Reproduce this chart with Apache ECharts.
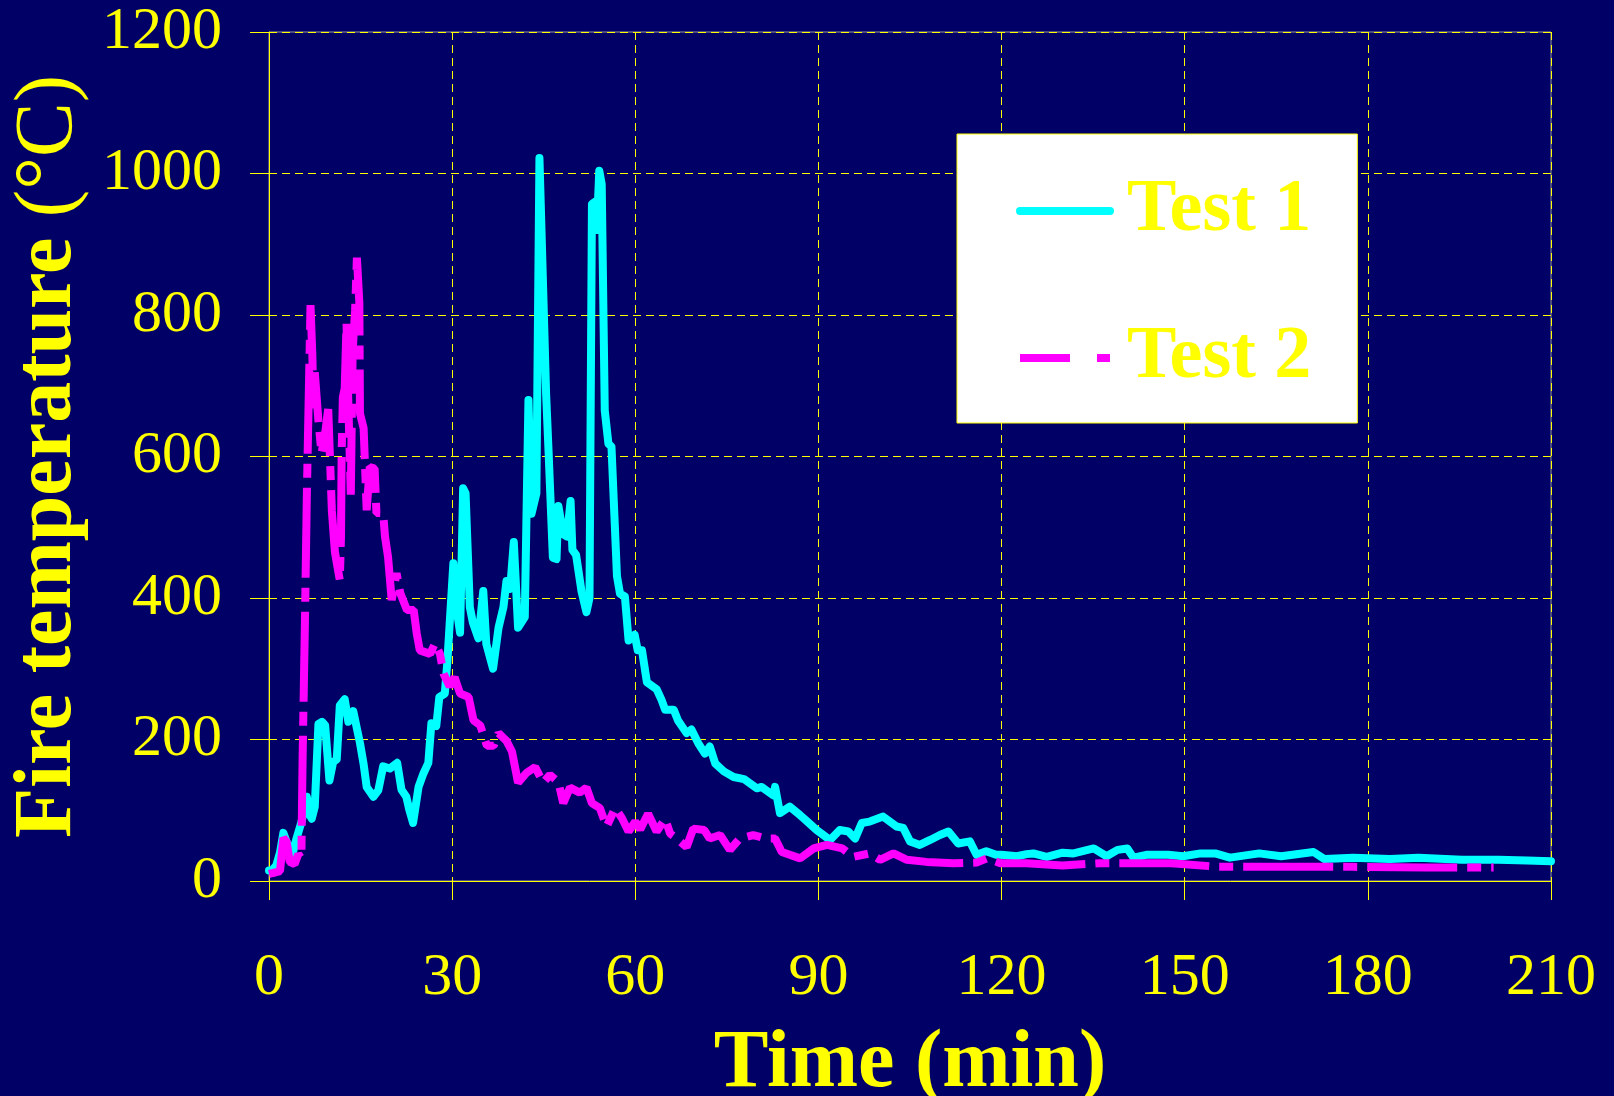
<!DOCTYPE html>
<html>
<head>
<meta charset="utf-8">
<title>Fire temperature</title>
<script src="https://cdn.jsdelivr.net/npm/echarts@6/dist/echarts.min.js"></script>
<style>
  html, body { margin: 0; padding: 0; background: #000066; }
  #main { width: 1614px; height: 1096px; }
</style>
</head>
<body>
<div id="main"></div>
<script>
// values (time in min, temperature in °C)
var test1Time = [0, 0.5, 1.2, 1.8, 2.35, 2.9, 3.4, 3.9, 4.5, 5.2, 5.8, 6.2, 6.6, 7.0, 7.5, 8.1, 8.7, 9.2, 9.9, 10.5,
  11.1, 11.6, 12.4, 13.0, 13.8, 14.9, 15.5, 16.0, 17.1, 17.9, 18.7, 19.8, 21.0, 21.7, 22.5, 23.0, 23.6, 24.5, 25.3, 26.1,
  26.6, 27.4, 27.9, 28.8, 29.2, 30.2, 30.8, 31.3, 31.8, 32.2, 32.9, 33.4, 34.3, 35.1, 35.6, 36.7, 37.6, 38.4, 38.9, 39.5,
  40.1, 40.8, 41.9, 42.5, 43.0, 43.8, 44.3, 44.6, 45.4, 45.8, 46.5, 47.1, 47.4, 48.2, 48.8, 49.4, 49.7, 50.3, 51.2, 52.0,
  52.5, 52.9, 53.4, 53.7, 54.1, 54.5, 55.0, 55.6, 56.1, 57.0, 57.5, 58.3, 58.9, 59.9, 60.4, 61.1, 61.9, 63.5, 64.3, 64.9,
  66.3, 67.0, 68.4, 69.2, 70.3, 71.4, 72.2, 73.1, 74.5, 76.1, 77.8, 79.9, 80.7, 82.6, 82.9, 83.7, 85.3, 87.0, 87.8, 89.7,
  91.9, 93.5, 94.9, 96.0, 97.1, 98.4, 100.6, 102.8, 103.9, 105.0, 106.6, 108.3, 109.9, 111.3, 112.9, 114.8, 115.9, 117.5, 119.1, 120.0,
  122.5, 124.1, 125.2, 127.4, 130.0, 131.8, 135.1, 137.2, 139.0, 140.6, 141.6, 143.7, 147.3, 149.7, 152.6, 155.0, 157.4, 162.2, 165.8, 171.1,
  172.9, 177.6, 183.6, 188.3, 195.4, 201.4, 206.1, 210];
var test1Temp = [15, 15, 22, 40, 68, 55, 45, 40, 60, 80, 100, 119, 95, 88, 105, 222, 225, 220, 142, 168,
  172, 248, 257, 225, 240, 195, 165, 133, 119, 128, 162, 159, 167, 129, 119, 100, 82, 133, 152, 167,
  223, 219, 260, 265, 308, 449, 380, 351, 555, 548, 387, 365, 343, 410, 335, 300, 358, 387, 424, 413,
  479, 358, 373, 680, 519, 548, 1022, 1022, 687, 606, 457, 455, 530, 490, 487, 537, 468, 461, 409, 380,
  400, 957, 960, 920, 1004, 985, 665, 618, 614, 431, 406, 402, 340, 348, 326, 326, 281, 271, 256, 242,
  242, 227, 209, 214, 195, 180, 190, 166, 155, 147, 144, 131, 133, 121, 133, 96, 105, 93, 87, 72,
  58, 72, 70, 60, 82, 84, 91, 77, 75, 56, 51, 58, 65, 70, 53, 56, 37, 42, 37, 37,
  35, 38, 39, 34, 40, 39, 46, 35, 44, 46, 33, 37, 37, 35, 39, 39, 33, 39, 35, 41,
  31, 33, 31, 33, 30, 30, 29, 28];

var test2Time = [0, 1.0, 1.8, 2.35, 2.9, 3.4, 4.2, 4.8, 5.3, 5.5, 5.9, 6.2, 6.6, 6.8, 7.1, 7.3, 7.5, 8.1, 8.6, 9.2,
  9.7, 10.3, 10.8, 11.3, 11.6, 11.8, 11.9, 12.1, 12.4, 12.7, 13.0, 13.4, 13.7, 14.1, 14.4, 14.8, 14.9, 15.5, 16.0, 16.5,
  17.3, 17.6, 18.7, 19.0, 19.5, 20.1, 20.9, 21.5, 22.6, 23.7, 24.2, 24.7, 26.4, 27.2, 28.0, 28.6, 29.6, 30.4, 31.3, 32.7,
  33.5, 34.6, 35.7, 36.8, 37.6, 38.9, 39.8, 40.8, 42.2, 43.6, 44.9, 46.0, 47.4, 48.2, 49.3, 50.9, 52.0, 52.9, 54.2, 55.3,
  56.7, 57.8, 58.9, 60.0, 60.8, 62.1, 63.5, 64.9, 65.7, 66.8, 68.4, 69.5, 71.3, 72.2, 73.9, 75.5, 77.1, 79.3, 81.5, 82.9,
  84.0, 87.0, 89.2, 91.4, 93.9, 95.7, 98.4, 100.1, 102.3, 104.5, 107.7, 112.1, 115.9, 117.6, 119.8, 124.1, 130.0, 136.0, 141.9, 147.8,
  155.6, 165.7, 177.6, 189.5, 200.6];
var test2Temp = [10, 12, 14, 61, 55, 27, 24, 38, 32, 171, 373, 546, 725, 814, 743, 668, 719, 650, 604, 633,
  667, 523, 465, 440, 425, 489, 604, 684, 696, 788, 673, 546, 748, 806, 881, 817, 661, 640, 524, 585,
  583, 520, 520, 487, 458, 397, 435, 407, 383, 383, 350, 326, 321, 336, 321, 293, 275, 288, 265, 260,
  227, 220, 191, 191, 209, 198, 183, 139, 153, 161, 139, 150, 140, 110, 132, 125, 132, 110, 103, 77,
  103, 89, 70, 84, 73, 95, 70, 88, 67, 60, 48, 74, 72, 60, 65, 44, 60, 65, 60, 60,
  41, 32, 46, 51, 46, 34, 39, 30, 39, 30, 27, 25, 26, 32, 25, 25, 22, 25, 25, 25,
  20, 20, 20, 19, 19];

var xTicks = [0, 210, 30];    // min, max, step
var yTicks = [0, 1200, 200];

function pairs(xs, ys) {
  return xs.map(function (x, i) { return [x, ys[i]]; });
}

var serif = '"Liberation Serif", "Times New Roman", serif';
var yellow = '#ffff00';
var noSymbol = { color: 'transparent', borderColor: 'transparent', borderWidth: 0, opacity: 0 };

var chart = echarts.init(document.getElementById('main'));
chart.setOption({
  backgroundColor: '#000066',
  animation: false,
  grid: {
    left: 269, right: 63, top: 32, bottom: 215,
    outerBoundsMode: 'none',
    containLabel: false,
    show: true, borderColor: '#999999', borderWidth: 1
  },
  legend: {
    orient: 'vertical',
    left: 957, top: 134,
    padding: [40, 46, 28, 59],
    itemWidth: 90, itemHeight: 14, itemGap: 73,
    backgroundColor: '#ffffff',
    borderColor: yellow, borderWidth: 1,
    textStyle: { color: yellow, fontSize: 74, lineHeight: 70, fontWeight: 'bold', fontFamily: serif, padding: [0, 0, 0, 12] },
    data: [
      { name: 'Test 1', itemStyle: noSymbol, lineStyle: { width: 8, cap: 'round' } },
      { name: 'Test 2', itemStyle: noSymbol, lineStyle: { width: 8, type: [50, 27, 13, 27], cap: 'butt' } }
    ]
  },
  xAxis: {
    type: 'value',
    min: xTicks[0], max: xTicks[1], interval: xTicks[2],
    name: 'Time (min)',
    nameLocation: 'middle',
    nameGap: 143,
    nameTextStyle: { color: yellow, fontSize: 82, fontWeight: 'bold', fontFamily: serif },
    axisLine: { show: true, lineStyle: { color: yellow, width: 1 } },
    axisTick: { show: true, length: 19, lineStyle: { color: yellow } },
    axisLabel: { color: yellow, fontSize: 60, fontFamily: serif, margin: 67, formatter: function (v) { return String(v); } },
    splitLine: { show: true, lineStyle: { color: yellow, width: 1, type: [8, 5] } }
  },
  yAxis: {
    type: 'value',
    min: yTicks[0], max: yTicks[1], interval: yTicks[2],
    name: '{b|Fire temperature }{r|(°C)}',
    nameLocation: 'middle',
    nameGap: 179,
    nameTextStyle: {
      color: yellow, fontSize: 82, fontFamily: serif,
      rich: {
        b: { color: yellow, fontSize: 82, fontWeight: 'bold', fontFamily: serif },
        r: { color: yellow, fontSize: 82, fontWeight: 'normal', fontFamily: serif }
      }
    },
    axisLine: { show: true, lineStyle: { color: yellow, width: 1 } },
    axisTick: { show: true, length: 19, lineStyle: { color: yellow } },
    axisLabel: { color: yellow, fontSize: 60, fontFamily: serif, margin: 47, formatter: function (v) { return String(v); } },
    splitLine: { show: true, lineStyle: { color: yellow, width: 1, type: [8, 5] } }
  },
  series: [
    {
      name: 'Test 1',
      type: 'line',
      data: pairs(test1Time, test1Temp),
      symbol: 'none',
      color: '#00ffff',
      lineStyle: { color: '#00ffff', width: 8, cap: 'round', join: 'round' },
      z: 3
    },
    {
      name: 'Test 2',
      type: 'line',
      data: pairs(test2Time, test2Temp),
      symbol: 'none',
      color: '#ff00ff',
      lineStyle: { color: '#ff00ff', width: 8, type: [90, 10, 14, 10], cap: 'butt', join: 'bevel' },
      z: 4
    }
  ]
});
</script>
</body>
</html>
